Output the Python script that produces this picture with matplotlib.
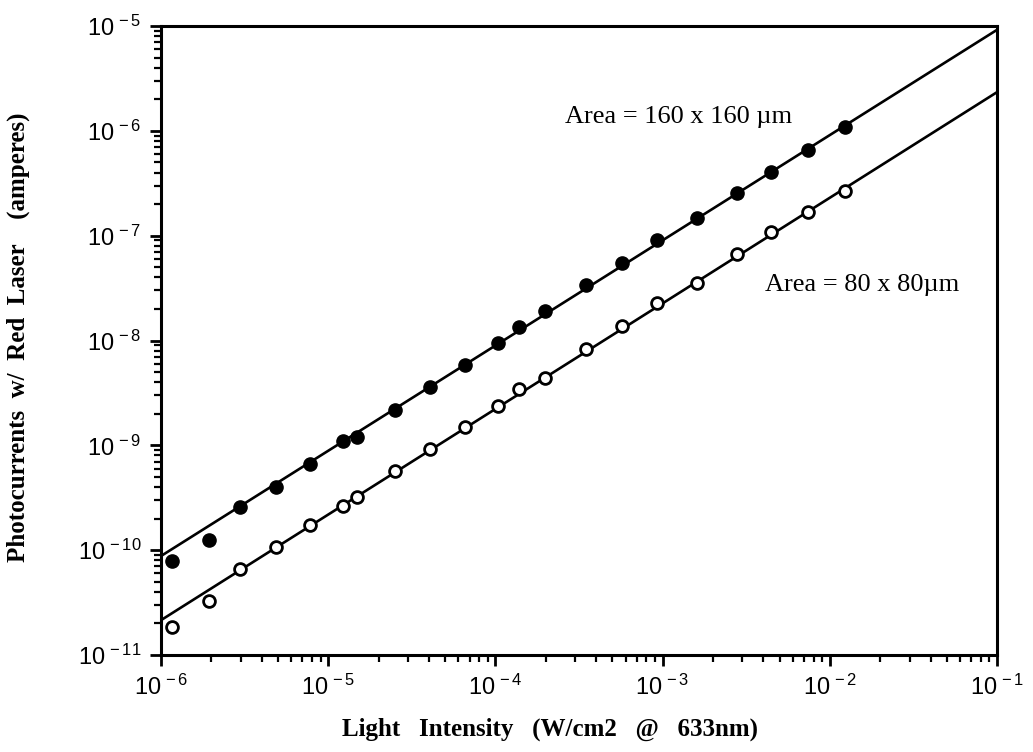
import math
import matplotlib
matplotlib.use("Agg")
import matplotlib.pyplot as plt
from matplotlib.ticker import LogLocator, FuncFormatter, NullFormatter

# Data
intensity = [1.16e-6, 1.94e-6, 2.97e-6, 4.89e-6, 7.8e-6, 1.23e-5, 1.49e-5, 2.52e-5,
             4.08e-5, 6.6e-5, 1.03e-4, 1.39e-4, 1.99e-4, 3.46e-4, 5.75e-4, 9.3e-4,
             1.6e-3, 2.77e-3, 4.43e-3, 7.38e-3, 1.23e-2]
current_160 = [7.9e-11, 1.24e-10, 2.57e-10, 4.0e-10, 6.6e-10, 1.1e-9, 1.2e-9, 2.17e-9,
               3.6e-9, 5.8e-9, 9.4e-9, 1.34e-8, 1.91e-8, 3.38e-8, 5.5e-8, 9.1e-8,
               1.47e-7, 2.55e-7, 4.05e-7, 6.56e-7, 1.09e-6]
current_80 = [1.84e-11, 3.26e-11, 6.6e-11, 1.08e-10, 1.73e-10, 2.63e-10, 3.2e-10, 5.7e-10,
              9.2e-10, 1.49e-9, 2.37e-9, 3.44e-9, 4.37e-9, 8.3e-9, 1.37e-8, 2.28e-8,
              3.53e-8, 6.67e-8, 1.08e-7, 1.68e-7, 2.67e-7]
fit_x = [1e-6, 1e-1]
fit_160 = [8.8e-11, 9.2e-6]
fit_80 = [2.15e-11, 2.34e-6]

x_ticks = [1e-6, 1e-5, 1e-4, 1e-3, 1e-2, 1e-1]
y_ticks = [1e-11, 1e-10, 1e-9, 1e-8, 1e-7, 1e-6, 1e-5]

plt.rcParams['mathtext.fontset'] = 'custom'
plt.rcParams['mathtext.rm'] = 'Liberation Sans'
plt.rcParams['mathtext.it'] = 'Liberation Sans'

fig = plt.figure(figsize=(10.33, 7.52), dpi=100)
ax = fig.add_axes([0.1559, 0.1290, 0.8093, 0.8364])
ax.set_xscale('log')
ax.set_yscale('log')
ax.set_xlim(1e-6, 1e-1)
ax.set_ylim(1e-11, 1e-5)

ax.plot(fit_x, fit_160, color='black', lw=1.9, zorder=2)
ax.plot(fit_x, fit_80, color='black', lw=1.9, zorder=2)
ax.plot(intensity, current_160, 'o', color='black', ms=9.5, zorder=3)
ax.plot(intensity, current_80, 'o', mfc='white', mec='black', mew=2.0, ms=8.5, zorder=3)

def fmt(v, pos):
    e = int(round(math.log10(v)))
    return r'$10^{\,%d}$' % e

ax.set_xticks(x_ticks)
ax.set_yticks(y_ticks)
ax.xaxis.set_minor_locator(LogLocator(base=10, subs=range(2, 10), numticks=20))
ax.yaxis.set_minor_locator(LogLocator(base=10, subs=range(2, 10), numticks=20))
ax.xaxis.set_major_formatter(FuncFormatter(fmt))
ax.yaxis.set_major_formatter(FuncFormatter(fmt))
ax.xaxis.set_minor_formatter(NullFormatter())
ax.yaxis.set_minor_formatter(NullFormatter())
ax.tick_params(which='major', direction='out', length=8, width=2, labelsize=17, pad=6)
ax.tick_params(which='minor', direction='out', length=5, width=1.6)
ax.tick_params(top=False, right=False, which='both')
for s in ax.spines.values():
    s.set_linewidth(2.2)

ax.set_xlabel('Light   Intensity   (W/cm2   @   633nm)', family='Liberation Serif',
              fontweight='bold', fontsize=18)
ax.set_ylabel('Photocurrents  w/  Red  Laser    (amperes)', family='Liberation Serif',
              fontweight='bold', fontsize=18)
ax.xaxis.set_label_coords(0.465, -0.100)
ax.yaxis.set_label_coords(-0.157, 0.505)

ax.text(0.4828, 0.855, 'Area = 160 x 160 \u00b5m', transform=ax.transAxes,
        family='Liberation Serif', fontsize=19, ha='left', va='center')
ax.text(0.7228, 0.588, 'Area = 80 x 80\u00b5m', transform=ax.transAxes,
        family='Liberation Serif', fontsize=19, ha='left', va='center')

fig.savefig('out.png', dpi=100)
